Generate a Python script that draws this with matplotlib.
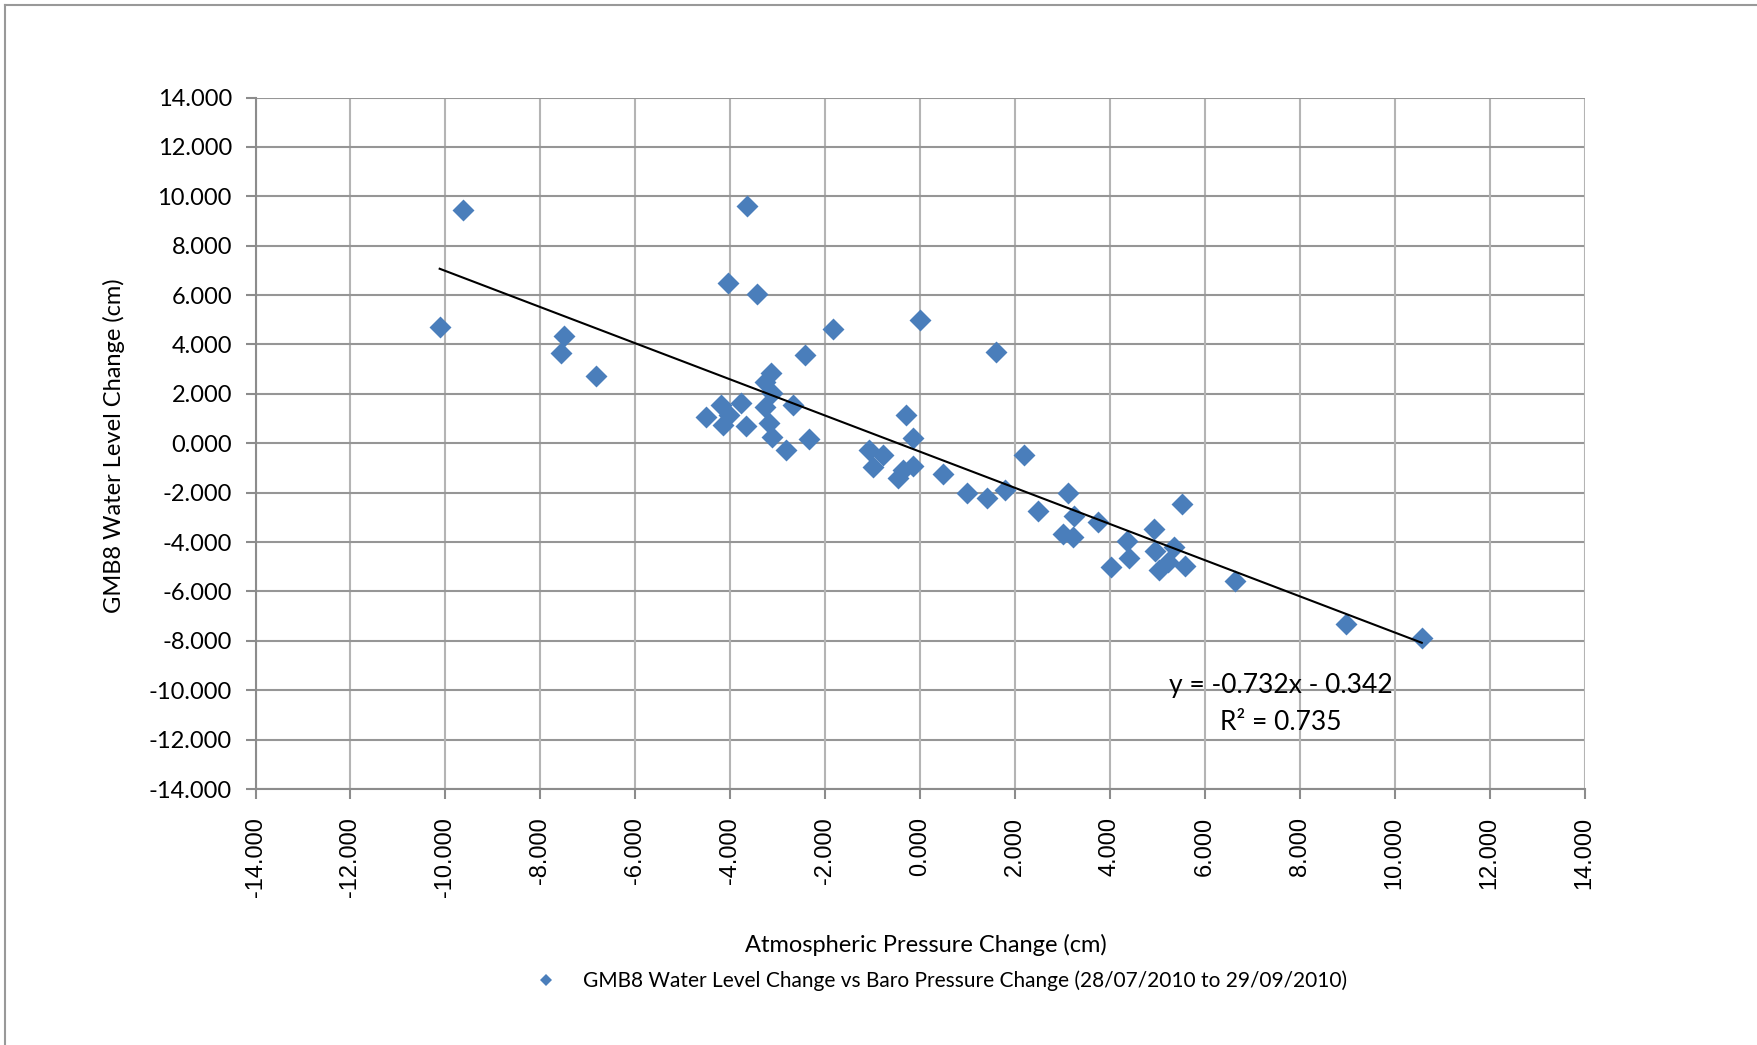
import numpy as np
import matplotlib
matplotlib.use("Agg")
import matplotlib.pyplot as plt
from matplotlib.ticker import FuncFormatter
from matplotlib.lines import Line2D

# atmospheric pressure change (cm) vs GMB8 water level change (cm)
baro_change = [
    -9.62, -10.12, -3.65, -4.04, -3.44, -1.83, 0.00, 1.60, -7.50, -7.56,
    -6.82, -2.42, -3.13, -3.26, -3.11, -2.68, -3.26, -3.77, -4.20, -4.51,
    -4.02, -4.16, -3.67, -3.18, -3.11, -2.82, -2.33, -0.30, -0.15, -1.08,
    -0.78, -1.00, -0.46, -0.36, -0.15, 0.49, 0.98, 1.41, 1.79, 2.19,
    2.48, 3.11, 3.25, 3.75, 3.02, 3.22, 4.93, 4.36, 4.41, 4.02,
    5.52, 5.36, 4.95, 5.04, 5.22, 5.58, 6.64, 8.97, 10.57,
]
water_change = [
    9.43, 4.72, 9.60, 6.50, 6.03, 4.62, 4.99, 3.69, 4.35, 3.64,
    2.73, 3.59, 2.86, 2.46, 2.03, 1.55, 1.45, 1.62, 1.55, 1.05,
    1.15, 0.74, 0.68, 0.81, 0.27, -0.27, 0.18, 1.14, 0.20, -0.28,
    -0.46, -0.96, -1.42, -1.10, -0.94, -1.24, -2.00, -2.20, -1.91, -0.49,
    -2.76, -2.00, -2.93, -3.20, -3.67, -3.81, -3.47, -3.95, -4.65, -5.03,
    -2.47, -4.22, -4.36, -5.14, -4.80, -4.96, -5.59, -7.31, -7.90,
]

# linear trend as reported on the chart
slope = -0.732
intercept = -0.342
r_squared = 0.735

ticks = np.arange(-14, 15, 2)
blue = '#4A7EBB'
font = ['Lato', 'DejaVu Sans']

W, H = 1757, 1045
fig = plt.figure(figsize=(W / 100, H / 100), dpi=100)
ax = fig.add_axes([255.5 / W, 1 - 789 / H, (1584.6 - 255.5) / W, (789 - 97.5) / H])

ax.set_xlim(-14, 14)
ax.set_ylim(-14, 14)
ax.set_xticks(ticks)
ax.set_yticks(ticks)
fmt = FuncFormatter(lambda v, pos: '{:.3f}'.format(v + 0.0))
ax.xaxis.set_major_formatter(fmt)
ax.yaxis.set_major_formatter(fmt)

for t in ticks:
    ax.axvline(t, color='#b4b4b4', lw=1.5, zorder=1)
    ax.axhline(t, color='#969696', lw=1.5, zorder=1)

for side in ['top', 'right']:
    ax.spines[side].set_visible(False)
ax.spines['left'].set_color('#8c8c8c')
ax.spines['bottom'].set_color('#8c8c8c')
ax.spines['left'].set_linewidth(1.5)
ax.spines['bottom'].set_linewidth(1.5)

ax.tick_params(axis='both', color='#8c8c8c', width=1.5, length=7)
ax.tick_params(axis='x', pad=13, labelrotation=90, labelsize=17)
ax.tick_params(axis='y', pad=10, labelsize=17)
for lbl in ax.get_xticklabels():
    lbl.set_family('Liberation Sans')
for lbl in ax.get_yticklabels():
    lbl.set_family(font)

ax.scatter(baro_change, water_change, marker='D', s=125, color=blue,
           linewidths=0, zorder=3)

xs = np.array([min(baro_change), max(baro_change)])
ax.plot(xs, slope * xs + intercept, color='black', lw=1.5, zorder=4)

eq = 'y = {:.3f}x - {:.3f}'.format(slope, abs(intercept))
ax.text(7.6, -9.8, eq, ha='center', va='center', fontsize=19, family=font, zorder=5)
ax.text(7.6, -11.3, 'R² = {:.3f}'.format(r_squared), ha='center', va='center',
        fontsize=19, family=font, zorder=5)

ax.set_xlabel('Atmospheric Pressure Change (cm)', fontsize=17, family=font)
ax.xaxis.label.set_va('center')
ax.xaxis.set_label_coords(0.5045, -0.2256)
ax.set_ylabel('GMB8 Water Level Change (cm)', fontsize=17, family=font)
ax.yaxis.label.set_va('center')
ax.yaxis.set_label_coords(-0.1065, 0.497)

handle = Line2D([], [], ls='none', marker='D', ms=6.6, color=blue, mew=0)
fig.legend([handle], ['GMB8 Water Level Change vs Baro Pressure Change (28/07/2010 to 29/09/2010)'],
           loc='center left', bbox_to_anchor=(519 / W, 1 - 981 / H), frameon=False,
           prop={'family': font, 'size': 15}, handlelength=0.8, handletextpad=1.37)

# chart area border (top and left edges)
fig.add_artist(Line2D([5 / W, 1], [1 - 5 / H, 1 - 5 / H], color='#999999', lw=1.5))
fig.add_artist(Line2D([5 / W, 5 / W], [0, 1 - 5 / H], color='#999999', lw=1.5))

fig.savefig('out.png', dpi=100)
